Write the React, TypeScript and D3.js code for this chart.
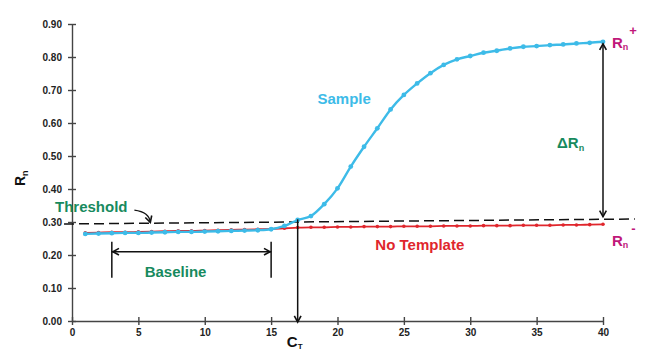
import React, { useRef, useEffect } from "react";
import * as d3 from "d3";

const cycles = [1, 2, 3, 4, 5, 6, 7, 8, 9, 10, 11, 12, 13, 14, 15, 16, 17, 18, 19, 20,
  21, 22, 23, 24, 25, 26, 27, 28, 29, 30, 31, 32, 33, 34, 35, 36, 37, 38, 39, 40];
const sampleValues = [0.264, 0.265, 0.266, 0.267, 0.267, 0.268, 0.269, 0.27, 0.27, 0.271,
  0.272, 0.273, 0.274, 0.275, 0.278, 0.288, 0.306, 0.318, 0.354, 0.402,
  0.468, 0.528, 0.584, 0.641, 0.685, 0.72, 0.751, 0.776, 0.793, 0.803,
  0.813, 0.819, 0.826, 0.831, 0.833, 0.836, 0.838, 0.841, 0.843, 0.846];
const noTemplateValues = [0.267, 0.268, 0.269, 0.269, 0.27, 0.271, 0.272, 0.273, 0.273, 0.274,
  0.275, 0.276, 0.277, 0.278, 0.279, 0.281, 0.283, 0.284, 0.284, 0.285,
  0.285, 0.286, 0.286, 0.286, 0.287, 0.287, 0.287, 0.288, 0.288, 0.288,
  0.289, 0.289, 0.289, 0.29, 0.29, 0.29, 0.291, 0.291, 0.292, 0.293];
const yTicks = [0, 0.1, 0.2, 0.3, 0.4, 0.5, 0.6, 0.7, 0.8, 0.9];
const xTicks = [0, 5, 10, 15, 20, 25, 30, 35, 40];
const thresholdCycles = [-0.6, 42.4];
const thresholdValues = [0.294, 0.309];
const ctCycle = 17;
const ctValue = 0.302;
const baselineCycles = [3, 15];
const baselineValue = 0.21;
const deltaCycle = 40;
const deltaRange = [0.846, 0.31];

const W = 646;
const H = 354;
const CYAN = "#3dbbe8";
const RED = "#e0262c";
const GREEN = "#178a5e";
const MAGENTA = "#c0187a";
const FONT = "'Liberation Sans', Arial, sans-serif";

const App = () => {
  const svgRef = useRef(null);

  useEffect(() => {
    const svg = d3.select(svgRef.current);
    svg.selectAll("*").remove();

    const x = d3.scaleLinear().domain([0, 40]).range([72, 603]);
    const y = d3.scaleLinear().domain([0, 0.9]).range([321, 24]);

    const arrowHead = (g, tx, ty, angle, color) => {
      const len = 7;
      const spread = 0.5;
      const a1 = angle + Math.PI - spread;
      const a2 = angle + Math.PI + spread;
      g.append("path")
        .attr(
          "d",
          `M${tx + len * Math.cos(a1)},${ty + len * Math.sin(a1)}L${tx},${ty}L${tx + len * Math.cos(a2)},${ty + len * Math.sin(a2)}`
        )
        .attr("fill", "none")
        .attr("stroke", color)
        .attr("stroke-width", 1.6);
    };

    // axes
    const yAxis = svg
      .append("g")
      .attr("transform", `translate(${x(0)},0)`)
      .call(
        d3.axisLeft(y).tickValues(yTicks).tickFormat(d3.format(".2f")).tickSizeInner(4).tickSizeOuter(0).tickPadding(6)
      );
    yAxis.selectAll(".tick line").attr("x1", 4);
    const xAxis = svg
      .append("g")
      .attr("transform", `translate(0,${y(0)})`)
      .call(d3.axisBottom(x).tickValues(xTicks).tickSizeInner(4).tickSizeOuter(0).tickPadding(4));
    xAxis.selectAll(".tick line").attr("y1", -4);
    [yAxis, xAxis].forEach((g) => {
      g.selectAll("path, line").attr("stroke", "#444").attr("stroke-width", 1.4);
      g.selectAll("text")
        .attr("fill", "#222")
        .style("font-family", FONT)
        .style("font-size", "10px")
        .style("font-weight", "bold");
    });

    // threshold line
    svg
      .append("line")
      .attr("x1", x(thresholdCycles[0]))
      .attr("x2", x(thresholdCycles[1]))
      .attr("y1", y(thresholdValues[0]))
      .attr("y2", y(thresholdValues[1]))
      .attr("stroke", "#111")
      .attr("stroke-width", 1.5)
      .attr("stroke-dasharray", "10,5");

    const line = d3
      .line()
      .x((d) => x(d[0]))
      .y((d) => y(d[1]))
      .curve(d3.curveMonotoneX);

    // no template
    const ntData = cycles.map((c, i) => [c, noTemplateValues[i]]);
    svg.append("path").attr("d", line(ntData)).attr("fill", "none").attr("stroke", RED).attr("stroke-width", 1.8);
    svg
      .selectAll(".nt")
      .data(ntData)
      .join("circle")
      .attr("cx", (d) => x(d[0]))
      .attr("cy", (d) => y(d[1]))
      .attr("r", 1.8)
      .attr("fill", RED);

    // sample
    const sData = cycles.map((c, i) => [c, sampleValues[i]]);
    svg.append("path").attr("d", line(sData)).attr("fill", "none").attr("stroke", CYAN).attr("stroke-width", 2.4);
    svg
      .selectAll(".s")
      .data(sData)
      .join("circle")
      .attr("cx", (d) => x(d[0]))
      .attr("cy", (d) => y(d[1]))
      .attr("r", 2.4)
      .attr("fill", CYAN);

    const ann = svg.append("g");

    // Ct arrow
    ann
      .append("line")
      .attr("x1", x(ctCycle))
      .attr("x2", x(ctCycle))
      .attr("y1", y(ctValue) - 2)
      .attr("y2", y(0))
      .attr("stroke", "#111")
      .attr("stroke-width", 1.5);
    arrowHead(ann, x(ctCycle), y(0) + 1, Math.PI / 2, "#111");

    // Delta Rn arrow
    ann
      .append("line")
      .attr("x1", x(deltaCycle))
      .attr("x2", x(deltaCycle))
      .attr("y1", y(deltaRange[0]) + 2)
      .attr("y2", y(deltaRange[1]) - 2)
      .attr("stroke", "#111")
      .attr("stroke-width", 1.5);
    arrowHead(ann, x(deltaCycle), y(deltaRange[0]) + 2, -Math.PI / 2, "#111");
    arrowHead(ann, x(deltaCycle), y(deltaRange[1]) - 2, Math.PI / 2, "#111");

    // Baseline arrow
    const bx0 = x(baselineCycles[0]);
    const bx1 = x(baselineCycles[1]);
    const by = y(baselineValue);
    ann.append("line").attr("x1", bx0).attr("x2", bx1).attr("y1", by).attr("y2", by).attr("stroke", "#111").attr("stroke-width", 1.5);
    [bx0, bx1].forEach((bx) => {
      ann.append("line").attr("x1", bx).attr("x2", bx).attr("y1", by - 10).attr("y2", by + 26).attr("stroke", "#111").attr("stroke-width", 1.5);
    });
    arrowHead(ann, bx0 + 1, by, Math.PI, "#111");
    arrowHead(ann, bx1 - 1, by, 0, "#111");

    // threshold pointer
    const px0 = x(4.7), py0 = y(0.336);
    const px1 = x(5.9), py1 = y(0.299);
    ann
      .append("path")
      .attr("d", `M${px0},${py0}Q${px1 - 1},${py0 + 2} ${px1},${py1}`)
      .attr("fill", "none")
      .attr("stroke", "#111")
      .attr("stroke-width", 1.4);
    arrowHead(ann, px1, py1, Math.PI / 2 - 0.3, "#111");

    const label = (tx, ty, text, color, size = 15, anchor = "start") =>
      ann
        .append("text")
        .attr("x", tx)
        .attr("y", ty)
        .attr("fill", color)
        .attr("text-anchor", anchor)
        .style("font-family", FONT)
        .style("font-size", `${size}px`)
        .style("font-weight", "bold")
        .text(text);

    label(x(20.5), 104, "Sample", CYAN, 15, "middle");
    label(x(26.2), 250, "No Template", RED, 15, "middle");
    label(55, 212, "Threshold", GREEN, 15);
    label(x(7.8), 277, "Baseline", GREEN, 15, "middle");

    const dl = label(557, 148, "\u0394R", GREEN, 15);
    dl.append("tspan").attr("dy", 3).style("font-size", "9px").text("n");

    const rp = label(612, 48, "R", MAGENTA, 15);
    rp.append("tspan").attr("dy", 2).style("font-size", "9px").text("n");
    rp.append("tspan").attr("dy", -15).attr("dx", 1).style("font-size", "13px").text("+");

    const rm = label(612, 246, "R", MAGENTA, 15);
    rm.append("tspan").attr("dy", 2).style("font-size", "9px").text("n");
    rm.append("tspan").attr("dy", -15).attr("dx", 3).style("font-size", "13px").text("-");

    const ct = label(x(ctCycle) - 3, 347, "C", "#111", 15, "middle");
    ct.append("tspan").attr("dy", 2).style("font-size", "8px").text("T");

    const yl = ann
      .append("text")
      .attr("transform", `translate(25,186) rotate(-90)`)
      .attr("fill", "#111")
      .style("font-family", FONT)
      .style("font-size", "14px")
      .style("font-weight", "bold")
      .text("R");
    yl.append("tspan").attr("dy", 3).style("font-size", "9px").text("n");
  }, []);

  return (
    <svg
      ref={svgRef}
      width={W}
      height={H}
      style={{ position: "absolute", left: 0, top: 0, background: "#fff" }}
    />
  );
};

export default App;
